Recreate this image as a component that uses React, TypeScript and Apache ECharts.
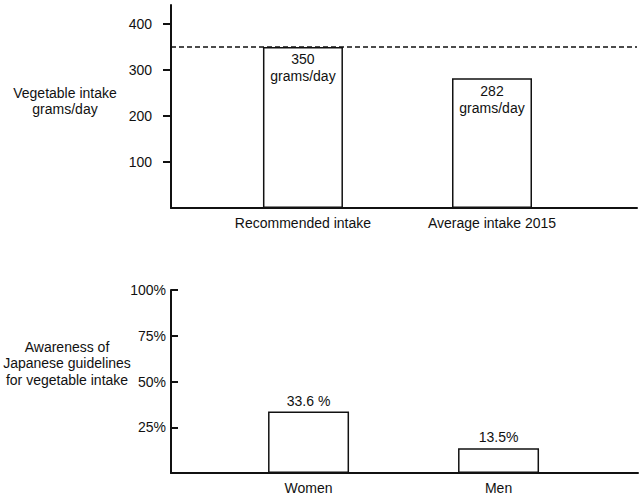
import React, { useEffect, useRef } from "react";
import * as echarts from "echarts";

const topCategories = ["Recommended intake", "Average intake 2015"];
const topValues = [350, 282];
const topUnit = "grams/day";
const topTicks = [100, 200, 300, 400];
const recommendedLevel = 350;
const topAxisTitle = "Vegetable intake\ngrams/day";

const bottomCategories = ["Women", "Men"];
const bottomValues = [33.6, 13.5];
const bottomLabels = ["33.6 %", "13.5%"];
const bottomTicks = [25, 50, 75, 100];
const bottomAxisTitle = "Awareness of\nJapanese guidelines\nfor vegetable intake";

const FONT = "'Liberation Sans', Arial, Helvetica, sans-serif";
const INK = "#111";

export default function App() {
  const ref = useRef<HTMLDivElement>(null);

  useEffect(() => {
    if (!ref.current) return;
    const chart = echarts.init(ref.current, undefined, { renderer: "svg" });
    const axisLineStyle = { color: INK, width: 2 };
    const textBase = { fontFamily: FONT, fontSize: 14, color: INK };

    const option: any = {
      animation: false,
      backgroundColor: "#fff",
      textStyle: { fontFamily: FONT },
      grid: [
        { left: 171, width: 466, top: 5, height: 203 },
        { left: 171, width: 467, top: 290, height: 183 },
      ],
      xAxis: [
        {
          gridIndex: 0,
          type: "value",
          min: 0.302,
          max: 2.767,
          axisLine: { show: true, onZero: false, lineStyle: axisLineStyle },
          axisTick: { show: false },
          splitLine: { show: false },
          axisLabel: {
            ...textBase,
            customValues: topCategories.map((_, i) => i + 1),
            formatter: (v: number) => topCategories[Math.round(v) - 1] ?? "",
            margin: 8,
          },
        },
        {
          gridIndex: 1,
          type: "value",
          min: 0.276,
          max: 2.734,
          axisLine: { show: true, onZero: false, lineStyle: axisLineStyle },
          axisTick: { show: false },
          splitLine: { show: false },
          axisLabel: {
            ...textBase,
            customValues: bottomCategories.map((_, i) => i + 1),
            formatter: (v: number) => bottomCategories[Math.round(v) - 1] ?? "",
            margin: 8,
          },
        },
      ],
      yAxis: [
        {
          gridIndex: 0,
          type: "value",
          min: 0,
          max: 441,
          axisLine: { show: true, onZero: false, lineStyle: axisLineStyle },
          axisTick: {
            show: true,
            customValues: topTicks,
            length: 8,
            inside: false,
            lineStyle: axisLineStyle,
          },
          splitLine: { show: false },
          axisLabel: { ...textBase, customValues: topTicks, margin: 19 },
        },
        {
          gridIndex: 1,
          type: "value",
          min: 0,
          max: 100,
          axisLine: { show: true, onZero: false, lineStyle: axisLineStyle },
          axisTick: {
            show: true,
            customValues: bottomTicks,
            length: 7,
            inside: true,
            lineStyle: axisLineStyle,
          },
          splitLine: { show: false },
          axisLabel: {
            ...textBase,
            customValues: bottomTicks,
            margin: 5,
            formatter: (v: number) => `${v}%`,
          },
        },
      ],
      series: [
        {
          type: "bar",
          xAxisIndex: 0,
          yAxisIndex: 0,
          barWidth: 80,
          data: topValues.map((v, i) => [i + 1, v]),
          itemStyle: { color: "#fff", borderColor: INK, borderWidth: 1.5 },
          label: {
            show: true,
            position: "insideTop",
            distance: 4,
            ...textBase,
            lineHeight: 17,
            formatter: (p: any) => `${p.value[1]}\n${topUnit}`,
          },
          markLine: {
            silent: true,
            symbol: ["none", "none"],
            label: { show: false },
            lineStyle: { type: [5, 3], color: INK, width: 1.5 },
            data: [{ yAxis: recommendedLevel }],
          },
        },
        {
          type: "bar",
          xAxisIndex: 1,
          yAxisIndex: 1,
          barWidth: 81,
          data: bottomValues.map((v, i) => [i + 1, v]),
          itemStyle: { color: "#fff", borderColor: INK, borderWidth: 1.5 },
          label: {
            show: true,
            position: "top",
            distance: 4,
            ...textBase,
            formatter: (p: any) => bottomLabels[p.dataIndex],
          },
        },
      ],
      graphic: [
        {
          type: "text",
          x: 65,
          y: 101,
          style: {
            text: topAxisTitle,
            align: "center",
            verticalAlign: "middle",
            fontSize: 14,
            lineHeight: 16,
            fontFamily: FONT,
            fill: INK,
          },
        },
        {
          type: "text",
          x: 67,
          y: 363,
          style: {
            text: bottomAxisTitle,
            align: "center",
            verticalAlign: "middle",
            fontSize: 14,
            lineHeight: 16.5,
            fontFamily: FONT,
            fill: INK,
          },
        },
      ],
    };

    chart.setOption(option);
    return () => chart.dispose();
  }, []);

  return (
    <div
      ref={ref}
      style={{
        position: "fixed",
        left: 0,
        top: 0,
        width: 643,
        height: 498,
        background: "#fff",
      }}
    />
  );
}
